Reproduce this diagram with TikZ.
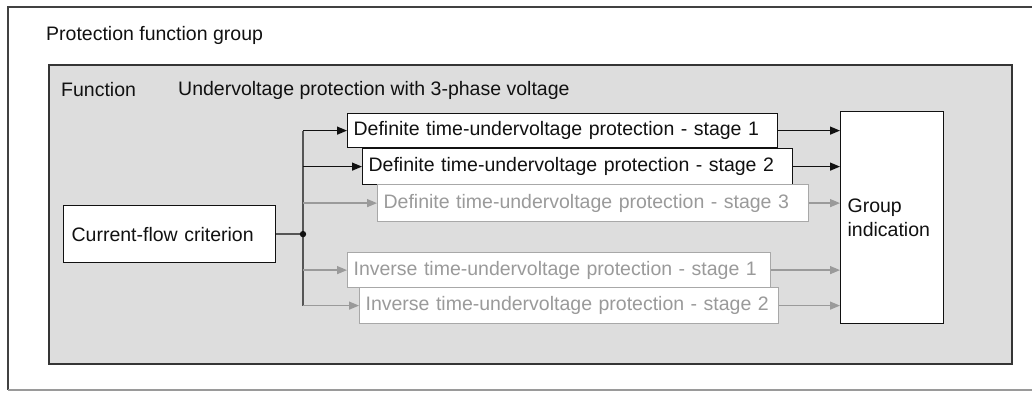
\documentclass[tikz,border=0pt]{standalone}
\usepackage{fontspec}
\setmainfont{Liberation Sans}
\usetikzlibrary{arrows.meta,calc}
\definecolor{framegray}{HTML}{DDDDDD}
\definecolor{dimgray}{HTML}{9A9A9A}
\definecolor{dimborder}{HTML}{A8A8A8}
\definecolor{busgray}{HTML}{555555}
\definecolor{ink}{HTML}{111111}
\tikzset{
  lbl/.style={font=\fontsize{19.5}{24}\selectfont, text=ink, inner sep=0pt, anchor=west},
  stagebox/.style={draw=ink, fill=white, line width=1.2pt, anchor=north west,
    font=\fontsize{19.5}{24}\selectfont, text=ink, inner xsep=6pt, inner ysep=0pt, align=left},
  dimbox/.style={stagebox, draw=dimborder, text=dimgray},
  blackarrow/.style={draw=ink, line width=1.3pt, -{Triangle[length=10pt,width=8pt]}},
  grayarrow/.style={draw=dimgray, line width=1.3pt, -{Triangle[length=10pt,width=8pt]}},
}
\begin{document}
\begin{tikzpicture}[x=1pt,y=-1pt]
\useasboundingbox (0,0) rectangle (1032,392);
% outer frame
\draw[draw=ink!80, line width=2pt] (1032,7) -- (8,7) -- (8,390);
\draw[draw=dimgray, line width=1.5pt] (8,390) -- (1032,390);
\node[lbl] (pfg) at (46,35) {Protection function group};
% inner frame
\draw[draw=ink!85, fill=framegray, line width=2pt] (49,65) rectangle (1012,364);
\node[lbl] (fn) at (61,90) {Function};
\node[lbl] (fname) at (178,90) {Undervoltage protection with 3-phase voltage};
% boxes
\node[stagebox, minimum width=430pt, minimum height=34pt, text width=418pt] (d1) at (347,113) {Definite time-undervoltage protection - stage 1};
\node[stagebox, minimum width=430pt, minimum height=36pt, text width=418pt] (d2) at (362,148) {Definite time-undervoltage protection - stage 2};
\node[dimbox, minimum width=431pt, minimum height=37pt, text width=419pt] (d3) at (377,184) {Definite time-undervoltage protection - stage 3};
\node[dimbox, minimum width=423pt, minimum height=35pt, text width=411pt] (i1) at (347,252) {Inverse time-undervoltage protection - stage 1};
\node[dimbox, minimum width=419pt, minimum height=36pt, text width=407pt] (i2) at (359,287) {Inverse time-undervoltage protection - stage 2};
\node[stagebox, minimum width=212pt, minimum height=57pt, text width=196pt, inner xsep=8pt] (cf) at (63,205) {Current-flow criterion};
\node[stagebox, minimum width=103pt, minimum height=212pt, text width=89pt, inner xsep=7pt] (gi) at (840,111) {Group\\indication};
% bus
\coordinate (bus) at (303,0);
\draw[draw=busgray, line width=2pt] (bus |- d1.west) -- (bus |- i2.west);
\draw[draw=busgray, line width=1.3pt] (cf.east) -- (cf.east -| bus);
\fill[ink] (cf.east -| bus) circle (3.2pt);
% left arrows
\draw[blackarrow] (bus |- d1.west) -- (d1.west);
\draw[blackarrow] (bus |- d2.west) -- (d2.west);
\draw[grayarrow] (bus |- d3.west) -- (d3.west);
\draw[grayarrow] (bus |- i1.west) -- (i1.west);
\draw[grayarrow] (bus |- i2.west) -- (i2.west);
% right arrows
\draw[blackarrow] (d1.east) -- (d1.east -| gi.west);
\draw[blackarrow] (d2.east) -- (d2.east -| gi.west);
\draw[grayarrow] (d3.east) -- (d3.east -| gi.west);
\draw[grayarrow] (i1.east) -- (i1.east -| gi.west);
\draw[grayarrow] (i2.east) -- (i2.east -| gi.west);
\end{tikzpicture}
\end{document}
